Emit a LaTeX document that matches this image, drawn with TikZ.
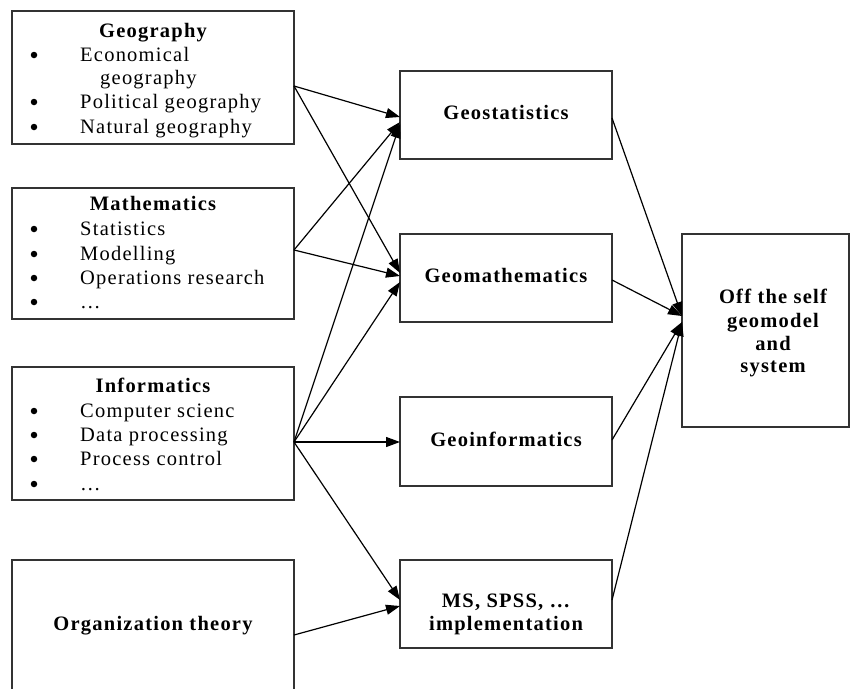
\documentclass[tikz,border=0pt]{standalone}
\usepackage{fontspec}
\setmainfont{Liberation Serif}[LetterSpace=6]
\usetikzlibrary{arrows.meta}
\begin{document}
\begin{tikzpicture}[x=1pt,y=-1pt,
  box/.style={draw=black!80,line width=1.4pt,inner sep=0pt},
  txt/.style={anchor=base west,inner sep=0pt,font=\fontsize{20.5}{23}\selectfont},
  ttl/.style={anchor=base,inner sep=0pt,font=\fontsize{20.5}{23}\selectfont\bfseries,align=center},
  bul/.style={circle,fill=black,inner sep=0pt,minimum size=6.5pt},
  arr/.style={line width=1.2pt,-{Triangle[length=14pt,width=10pt]}}]
\useasboundingbox (0,0) rectangle (850,688);
% boxes
\node[box,minimum width=282pt,minimum height=133pt] (geog) at (153,77.5) {};
\node[box,minimum width=282pt,minimum height=131pt] (math) at (153,253.5) {};
\node[box,minimum width=282pt,minimum height=133pt] (info) at (153,433.5) {};
\node[box,minimum width=282pt,minimum height=140pt] (org) at (153,630) {};
\node[box,minimum width=212pt,minimum height=88pt] (gstat) at (506,115) {};
\node[box,minimum width=212pt,minimum height=88pt] (gmath) at (506,278) {};
\node[box,minimum width=212pt,minimum height=89pt] (ginfo) at (506,441.5) {};
\node[box,minimum width=212pt,minimum height=88pt] (ms) at (506,604) {};
\node[box,minimum width=167pt,minimum height=193pt] (res) at (765.5,330.5) {};
% Geography text
\node[ttl] (t1) at (153,37) {Geography};
\node[txt] (g1) at (80,61) {Economical};
\node[txt] (g1b) at (100,84) {geography};
\node[txt] (g2) at (80,108) {Political geography};
\node[txt] (g3) at (80,133) {Natural geography};
\node[bul] (b1) at (34,55) {};
\node[bul] (b2) at (34,102) {};
\node[bul] (b3) at (34,127) {};
% Mathematics text
\node[ttl] (t2) at (153,210) {Mathematics};
\node[txt] (m1) at (80,235) {Statistics};
\node[txt] (m2) at (80,260) {Modelling};
\node[txt] (m3) at (80,284) {Operations research};
\node[txt] (m4) at (80,308) {\dots};
\node[bul] (b4) at (34,229) {};
\node[bul] (b5) at (34,254) {};
\node[bul] (b6) at (34,278) {};
\node[bul] (b7) at (34,302) {};
% Informatics text
\node[ttl] (t3) at (153,392) {Informatics};
\node[txt] (i1) at (80,417) {Computer scienc};
\node[txt] (i2) at (80,441) {Data processing};
\node[txt] (i3) at (80,465) {Process control};
\node[txt] (i4) at (80,490) {\dots};
\node[bul] (b8) at (34,411) {};
\node[bul] (b9) at (34,435) {};
\node[bul] (b10) at (34,459) {};
\node[bul] (b11) at (34,484) {};
% other titles
\node[ttl] (t4) at (153,630) {Organization theory};
\node[ttl] (t5) at (506,119) {Geostatistics};
\node[ttl] (t6) at (506,282) {Geomathematics};
\node[ttl] (t7) at (506,446) {Geoinformatics};
\node[ttl] (t8) at (506,607) {MS, SPSS, \dots};
\node[ttl] (t9) at (506,630) {implementation};
\node[ttl] (r1) at (773,303) {Off the self};
\node[ttl] (r2) at (773,327) {geomodel};
\node[ttl] (r3) at (773,350) {and};
\node[ttl] (r4) at (773,372) {system};
% ports
\coordinate (go) at (294,86);
\coordinate (mo) at (294,250);
\coordinate (io) at (294,442);
\coordinate (oo) at (294,635);
\coordinate (s1) at (400,117);
\coordinate (s2) at (400,122);
\coordinate (s3) at (400,124);
\coordinate (h1) at (400,273);
\coordinate (h2) at (400,276);
\coordinate (h3) at (400,282);
\coordinate (n1) at (400,442);
\coordinate (p1) at (400,600);
\coordinate (p2) at (400,606);
\coordinate (so) at (612,118);
\coordinate (ho) at (612,280);
\coordinate (no) at (612,440);
\coordinate (po) at (612,600);
\coordinate (r1i) at (682,316);
\coordinate (r2i) at (682,322);
% arrows
\draw[arr] (go) -- (s1);
\draw[arr] (go) -- (h1);
\draw[arr] (mo) -- (s2);
\draw[arr] (mo) -- (h2);
\draw[arr] (io) -- (s3);
\draw[arr] (io) -- (h3);
\draw[arr] (io) -- (n1);
\draw[arr] (io) -- (p1);
\draw[arr] (oo) -- (p2);
\draw[arr] (so) -- (r1i);
\draw[arr] (ho) -- (r1i);
\draw[arr] (no) -- (r2i);
\draw[arr] (po) -- (r2i);
\end{tikzpicture}
\end{document}
